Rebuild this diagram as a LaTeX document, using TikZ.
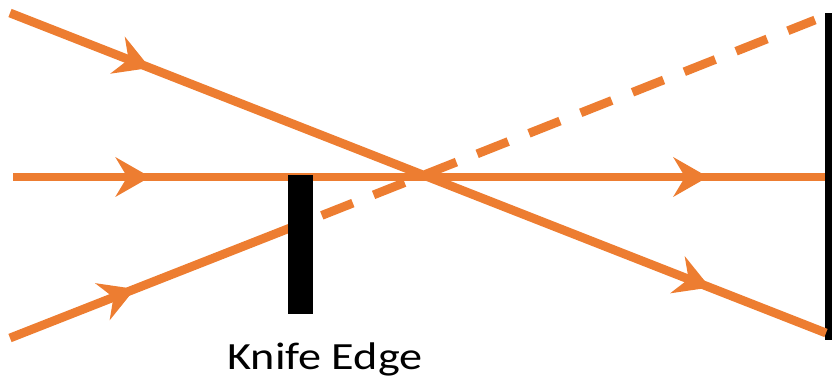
\documentclass[tikz,border=0pt]{standalone}
\usepackage{fontspec}
\setmainfont{Carlito}
\usetikzlibrary{arrows.meta,decorations.markings}
\definecolor{rayorange}{RGB}{237,125,49}
\tikzset{
  ray/.style={draw=rayorange, line width=8.8pt, line cap=butt},
  rayhead/.tip={Stealth[length=35pt,width=40pt,inset=12pt,line width=0pt,rayorange]},
  arrowat/.style={postaction={decorate},
    decoration={markings, mark=at position #1 with {\arrow{rayhead}}}},
  twoarrows/.style 2 args={postaction={decorate},
    decoration={markings,
      mark=at position #1 with {\arrow{rayhead}},
      mark=at position #2 with {\arrow{rayhead}}}},
  dashray/.style={ray, dash pattern=on 33.4pt off 22.3pt, dash phase=21.5pt},
  screen/.style={fill=black, draw=none},
  label/.style={font=\fontsize{38.5pt}{46pt}\selectfont, anchor=base, inner sep=0pt, xscale=1.2}
}
\begin{document}
\begin{tikzpicture}[x=1pt,y=-1pt]
\useasboundingbox (0,0) rectangle (836,382);
% coordinates
\coordinate (aS) at (10,13);
\coordinate (aE) at (826,333);
\coordinate (bS) at (13,177);
\coordinate (bE) at (825,177);
\coordinate (cS) at (10,338);
\coordinate (cK) at (290,228);
\coordinate (cE) at (815,20);
% screen on the right
\fill[screen] (825,13) rectangle (832,340);
% rays
\draw[ray, twoarrows={0.1716}{0.858}] (aS) -- (aE);
\draw[ray, twoarrows={0.169}{0.856}] (bS) -- (bE);
\draw[ray, arrowat=0.446] (cS) -- (cK);
\draw[dashray] (cK) -- (cE);
% knife edge
\fill[screen] (288,175) rectangle (313,314);
\node[label] (knife) at (325,370) {Knife Edge};
\end{tikzpicture}
\end{document}
